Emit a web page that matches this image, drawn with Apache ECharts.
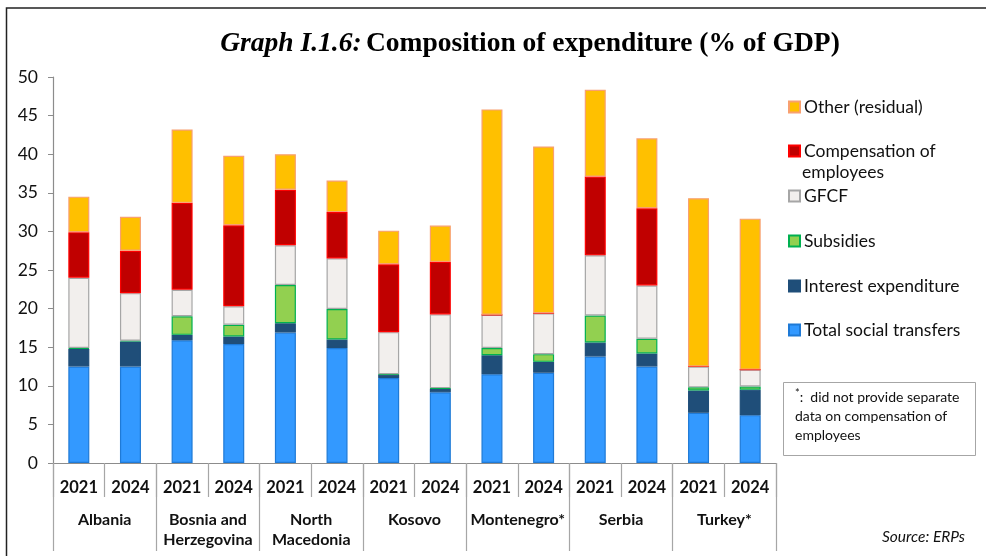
<!DOCTYPE html>
<html>
<head>
<meta charset="utf-8">
<script src="https://cdn.jsdelivr.net/npm/echarts@6/dist/echarts.min.js"></script>
<style>
    html, body { margin: 0; padding: 0; background: #fff; }
    #chart { width: 986px; height: 556px; }
</style>
</head>
<body>
<div id="chart"></div>
<script>
// categories
var years = ['2021', '2024', '2021', '2024', '2021', '2024', '2021', '2024', '2021', '2024', '2021', '2024', '2021', '2024'];
var countries = ['Albania', 'Bosnia and\nHerzegovina', 'North\nMacedonia', 'Kosovo', 'Montenegro*', 'Serbia', 'Turkey*'];

// series values (% of GDP)
var socialTransfers = [12.5, 12.5, 15.9, 15.4, 16.9, 14.9, 11.0, 9.15, 11.5, 11.7, 13.8, 12.5, 6.5, 6.2];
var interest = [2.3, 3.25, 0.7, 1.0, 1.2, 1.1, 0.45, 0.5, 2.45, 1.4, 1.8, 1.7, 2.9, 3.3];
var subsidies = [0.1, 0.1, 2.4, 1.5, 4.95, 3.95, 0.05, 0.05, 0.95, 1.0, 3.5, 1.9, 0.4, 0.4];
var gfcf = [9.1, 6.15, 3.45, 2.4, 5.15, 6.55, 5.45, 9.55, 4.3, 5.3, 7.8, 6.9, 2.7, 2.2];
var compensation = [5.9, 5.5, 11.25, 10.5, 7.2, 6.0, 8.8, 6.8, 0, 0, 10.2, 10.0, 0, 0];
var other = [4.6, 4.4, 9.5, 9.0, 4.6, 4.1, 4.35, 4.7, 26.6, 21.6, 11.25, 9.05, 21.8, 19.55];

var yTicks = [0, 5, 10, 15, 20, 25, 30, 35, 40, 45, 50];

var font = 'Lato, "Open Sans", sans-serif';

function bar(name, data, fill, border) {
    return {
        name: name,
        type: 'bar',
        stack: 'total',
        barWidth: 21,
        xAxisIndex: 0,
        data: data,
        itemStyle: {
            color: fill,
            borderColor: border,
            borderWidth: 1.2
        }
    };
}

function legendItem(name, top) {
    return {
        data: [name],
        left: 788,
        top: top,
        orient: 'vertical',
        icon: 'rect',
        itemWidth: 11,
        itemHeight: 11,
        itemGap: 0,
        padding: 0,
        selectedMode: false,
        formatter: function (n) {
            return n === 'Compensation of employees' ? 'Compensation of' : n;
        },
        textStyle: {
            fontFamily: font,
            fontSize: 17.5,
            color: '#111',
            padding: [0, 0, 0, -1]
        }
    };
}

var option = {
    animation: false,
    textStyle: { fontFamily: font },
    title: {
        left: 525,
        top: 25,
        textAlign: 'center',
        text: '{i|Graph I.1.6:} {b|Composition of expenditure (% of GDP)}',
        textStyle: {
            rich: {
                i: { fontFamily: '"Liberation Serif", serif', fontStyle: 'italic', fontSize: 27.5, color: '#000' },
                b: { fontFamily: '"Liberation Serif", serif', fontWeight: 'bold', fontSize: 27.5, color: '#000' }
            }
        }
    },
    legend: [
        legendItem('Other (residual)', 98),
        legendItem('Compensation of employees', 142),
        legendItem('GFCF', 187),
        legendItem('Subsidies', 232),
        legendItem('Interest expenditure', 277),
        legendItem('Total social transfers', 321)
    ],
    grid: {
        left: 53,
        right: 210,
        top: 77,
        bottom: 93
    },
    xAxis: [
        {
            type: 'category',
            data: years,
            position: 'bottom',
            axisLine: { lineStyle: { color: '#8c8c8c', width: 1.2 } },
            axisTick: { show: true, interval: 0, length: 34, lineStyle: { color: '#a6a6a6', width: 1.2 } },
            axisLabel: {
                interval: 0,
                margin: 16,
                fontFamily: font,
                fontWeight: 'bold',
                fontSize: 16.5,
                color: '#111'
            }
        },
        {
            type: 'category',
            data: countries,
            position: 'bottom',
            axisLine: { show: false },
            axisTick: { show: true, interval: 0, length: 88, lineStyle: { color: '#a6a6a6', width: 1.2 } },
            axisLabel: {
                interval: 0,
                margin: 47,
                fontFamily: font,
                fontWeight: 'bold',
                fontSize: 16,
                lineHeight: 20,
                color: '#111'
            }
        }
    ],
    yAxis: {
        type: 'value',
        min: yTicks[0],
        max: yTicks[yTicks.length - 1],
        interval: 5,
        axisLine: { show: true, lineStyle: { color: '#8c8c8c', width: 1.2 } },
        axisTick: { show: true, length: 5, lineStyle: { color: '#8c8c8c' } },
        splitLine: { show: false },
        axisLabel: {
            margin: 15,
            fontFamily: font,
            fontSize: 17.5,
            color: '#111'
        }
    },
    graphic: [
        {
            type: 'rect',
            shape: { x: 6.5, y: 8, width: 1200, height: 800 },
            style: { fill: 'none', stroke: '#222', lineWidth: 1.5 },
            silent: true
        },
        {
            type: 'text',
            left: 802,
            top: 163,
            style: { text: 'employees', font: '17.5px ' + font, fill: '#111' }
        },
        {
            type: 'rect',
            shape: { x: 783.5, y: 382.5, width: 192, height: 73 },
            style: { fill: '#fff', stroke: '#a6a6a6', lineWidth: 1 }
        },
        {
            type: 'text',
            left: 795,
            top: 388,
            style: {
                text: '{s|*}:  did not provide separate\ndata on compensation of\nemployees',
                font: '14px ' + font,
                fill: '#111',
                lineHeight: 19,
                rich: {
                    s: { fontSize: 11, verticalAlign: 'top', padding: [0, 0, 6, 0], fontFamily: font }
                }
            }
        },
        {
            type: 'text',
            left: 882,
            top: 529,
            style: { text: 'Source: ERPs', font: 'italic 15.5px ' + font, fill: '#111' }
        }
    ],
    series: [
        bar('Total social transfers', socialTransfers, '#3399ff', '#1f7ad6'),
        bar('Interest expenditure', interest, '#1f4e79', '#1f4e79'),
        bar('Subsidies', subsidies, '#92d050', '#00b050'),
        bar('GFCF', gfcf, '#f2efed', '#a6a6a6'),
        bar('Compensation of employees', compensation, '#c00000', '#ff0000'),
        bar('Other (residual)', other, '#ffc000', '#f8a070')
    ]
};

var chart = echarts.init(document.getElementById('chart'));
chart.setOption(option);
</script>
</body>
</html>
